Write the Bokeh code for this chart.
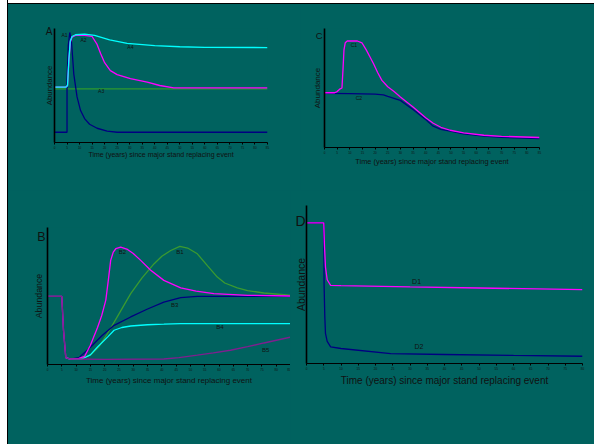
from bokeh.plotting import figure
from bokeh.layouts import column, row
from bokeh.models import Range1d, FixedTicker, ColumnDataSource, Spacer, LinearAxis
from bokeh.core.properties import value
from bokeh.embed import file_html
from bokeh.resources import INLINE

BG = "#00625F"
FONT = "Liberation Sans"
TXT = "#111111"
XLABEL = "Time (years) since major stand replacing event"
YLABEL = "Abundance"

MAGENTA = "#FF00FF"
NAVY = "#000080"
CYAN = "#00FFFF"
GREEN = "#2E9A2E"
GREEN_B = "#3A9A30"
PURPLE = "#7F1F8F"

ticks_85 = [0, 5, 10, 15, 20, 25, 30, 35, 40, 45, 50, 55, 60, 65, 70, 75, 80, 85]
ticks_80 = [0, 5, 10, 15, 20, 25, 30, 35, 40, 45, 50, 55, 60, 65, 70, 75, 80]

# ---------------- Panel A ----------------
a1_x = [0, 5, 5, 5.5, 6.1, 6.8, 7.7, 9, 10.4, 12, 14, 17, 21, 25, 85]
a1_y = [9, 9, 55, 85, 96.5, 88, 60, 40, 28, 21, 16, 12.5, 10, 9, 9]
a2_x = [0, 4.5, 5.2, 5.7, 6.3, 7, 8.4, 12, 15, 17, 18.4, 20, 22.3, 25, 30.3, 37, 42, 47.6, 85]
a2_y = [48.5, 48.5, 50, 70, 88, 92.5, 94, 94, 93, 86, 78, 70, 63, 59.5, 56, 53, 50, 48, 48]
a3_x = [0, 85]
a3_y = [47, 47]
a4_x = [0, 4.5, 5.2, 5.7, 6.3, 7, 8.4, 12, 16, 22, 29, 40, 50, 60, 85]
a4_y = [48.5, 48.5, 50, 72, 89, 93, 94.5, 95, 94, 90, 87, 85, 84, 83.5, 83.3]
a_lab = ["A1", "A2", "A3", "A4"]
a_lab_x = [4, 11.6, 18.6, 30.3]
a_lab_y = [94, 89.5, 45, 84]

# ---------------- Panel C ----------------
c1_x = [0, 4, 5, 6, 6.9, 7.3, 7.7, 8.2, 9, 13, 14.8, 16.5, 18, 19.4, 21, 22.7, 25, 27.5,
        30, 35, 40, 43, 46, 49.7, 55, 63, 70, 85]
c1_y = [46, 46, 47, 49, 50, 65, 82, 88, 89.5, 89.5, 88, 82, 76, 70.4, 63, 56.4, 51, 47,
        42.4, 34, 25, 20.4, 17, 14.5, 12.3, 10.3, 9.4, 8.4]
c2_x = [0, 10, 20, 23.3, 25, 30, 35, 40, 43, 46, 49.7, 55, 63, 70, 85]
c2_y = [45.5, 45.3, 44.8, 44.3, 43, 39.6, 32, 23.5, 17.9, 15.3, 13.7, 11.5, 9.5, 8.5, 7.5]
c_lab = ["C1", "C2"]
c_lab_x = [11.6, 13.6]
c_lab_y = [85.8, 42]

# ---------------- Panel B ----------------
b1_x = [6.4, 8, 12, 15.1, 18, 21, 25, 29.1, 33, 37.3, 40, 43.1, 46.3, 49, 52.4, 56, 59.4,
        62, 66.4, 70, 75.7, 85]
b1_y = [5, 4, 4.5, 7, 13, 22.6, 37, 51.7, 63, 73.6, 79, 83.2, 86.2, 85, 80.8, 72, 63.8,
        59.5, 56, 54, 52.2, 50.5]
b2_x = [0, 5, 5.6, 6.4, 8, 11, 13, 15, 17.5, 19, 20.4, 21.3, 22.1, 23, 23.9, 25.6, 28, 30,
        32.6, 36, 40.7, 46.6, 52, 58.2, 70, 85]
b2_y = [49.7, 49.7, 25, 5, 4, 4.5, 6, 14, 27, 36, 47, 62, 76, 82, 84.5, 85.7, 84, 81,
        76, 69, 61.4, 56, 53.5, 51.7, 50.5, 50]
b3_x = [6.4, 8, 11, 15.1, 19, 23.3, 29.1, 35, 40.7, 46.6, 52.4, 85]
b3_y = [5, 4, 5, 12.8, 21, 28.6, 34.7, 40.5, 45.6, 48.8, 49.7, 49.7]
b4_x = [6.4, 8, 12, 15, 17.5, 21, 23.3, 26, 29.1, 35, 40.7, 46.6, 85]
b4_y = [5, 4, 4, 7, 12.8, 20, 25, 27, 28.1, 29, 29.4, 29.9, 29.9]
b5_x = [0, 5, 5.6, 6.4, 8, 20, 40.7, 46, 52.4, 58, 64, 70, 75.7, 85]
b5_y = [49.7, 49.7, 25, 5, 4, 3.8, 4, 5, 6.8, 8.5, 10.4, 13, 15.7, 20]
b_lab = ["B1", "B2", "B3", "B4", "B5"]
b_lab_x = [46.3, 26.2, 44.5, 60.3, 76.3]
b_lab_y = [82, 82, 43.2, 27.4, 10.4]

# ---------------- Panel D ----------------
d1_x = [0, 5, 5.2, 5.5, 6, 7, 10, 30, 50, 80]
d1_y = [89, 89, 75, 61, 53, 49.5, 49.3, 48.5, 47.8, 46.7]
d2_x = [0, 5, 5.1, 5.3, 5.5, 6, 7, 10, 24.4, 40, 60, 80]
d2_y = [89, 89, 50, 30, 19, 14, 10.5, 9.5, 6.3, 5.7, 5.1, 4.6]
d_lab = ["D1", "D2"]
d_lab_x = [31.9, 32.6]
d_lab_y = [52.2, 10.5]


def panel(width, height, left, right, top, bottom, xmax, ticks,
          xl_size, yl_size, xl_stand, letter, letter_y, letter_size,
          letter_stand, yl_stand):
    p = figure(width=width, height=height, output_backend="svg",
               toolbar_location=None, frame_align=False,
               x_range=Range1d(0, xmax), y_range=Range1d(0, 100),
               min_border_left=left, min_border_right=right,
               min_border_top=top, min_border_bottom=bottom,
               background_fill_color=None, border_fill_color=BG,
               outline_line_color=None)
    p.grid.visible = False
    p.xaxis.ticker = FixedTicker(ticks=ticks)
    p.xaxis.major_label_text_font_size = "3px"
    p.xaxis.major_label_text_color = TXT
    p.xaxis.major_label_standoff = 1
    p.xaxis.major_tick_out = 2
    p.xaxis.major_tick_in = 0
    p.xaxis.minor_tick_out = 0
    p.xaxis.minor_tick_in = 0
    p.xaxis.axis_line_color = "black"
    p.xaxis.major_tick_line_color = "black"
    p.xaxis.axis_line_width = 1.2
    p.xaxis.axis_label = XLABEL
    p.xaxis.axis_label_text_font = FONT
    p.xaxis.axis_label_text_font_style = "normal"
    p.xaxis.axis_label_text_font_size = xl_size
    p.xaxis.axis_label_text_color = TXT
    p.xaxis.axis_label_standoff = xl_stand
    p.xaxis.major_label_text_font = FONT

    # primary y axis: carries the panel letter as its only tick label
    p.yaxis.ticker = FixedTicker(ticks=[letter_y])
    p.yaxis.major_label_overrides = {letter_y: letter}
    p.yaxis.major_label_text_font = FONT
    p.yaxis.major_label_text_font_size = letter_size
    p.yaxis.major_label_text_color = TXT
    p.yaxis.major_label_standoff = letter_stand
    p.yaxis.major_tick_out = 0
    p.yaxis.major_tick_in = 0
    p.yaxis.minor_tick_out = 0
    p.yaxis.minor_tick_in = 0
    p.yaxis.axis_line_color = "black"
    p.yaxis.axis_line_width = 1.6

    # secondary y axis: carries the "Abundance" title
    ax2 = LinearAxis(axis_label=YLABEL, ticker=FixedTicker(ticks=[]),
                     axis_line_color=None, major_tick_out=0, major_tick_in=0,
                     minor_tick_out=0, minor_tick_in=0, major_label_standoff=0,
                     axis_label_text_font=FONT, axis_label_text_font_style="normal",
                     axis_label_text_font_size=yl_size, axis_label_text_color=TXT,
                     axis_label_standoff=yl_stand)
    p.add_layout(ax2, "left")
    return p


def labels(p, names, xs, ys, size):
    src = ColumnDataSource(dict(x=xs, y=ys, t=names))
    p.text(x="x", y="y", text="t", source=src, text_font=value(FONT),
           text_font_size=size, text_color=TXT, text_align="center",
           text_baseline="middle")


LW = 1.3

# Panel A
pA = panel(292, 186, 46, 33, 24, 48, 85, ticks_85, "7px", "7.8px", -1,
           "A", 97, "10px", 2, -11)
pA.line(a3_x, a3_y, line_color=GREEN, line_width=LW)
pA.line(a1_x, a1_y, line_color=NAVY, line_width=LW)
pA.line(a2_x, a2_y, line_color=MAGENTA, line_width=LW)
pA.line(a4_x, a4_y, line_color=CYAN, line_width=LW)
labels(pA, a_lab, a_lab_x, a_lab_y, "5px")

# Panel C
pC = panel(294, 186, 24, 55, 24, 43, 85, ticks_85, "7.4px", "8px", 0,
           "C", 94, "9.5px", 2, -9)
pC.line(c2_x, c2_y, line_color=NAVY, line_width=LW)
pC.line(c1_x, c1_y, line_color=MAGENTA, line_width=LW)
labels(pC, c_lab, c_lab_x, c_lab_y, "5px")

# Panel B
pB = panel(282, 254, 39, 0, 37, 80, 85, ticks_85, "8px", "8.8px", 2,
           "B", 93, "12.5px", 2, -9)
pB.line(b1_x, b1_y, line_color=GREEN_B, line_width=LW)
pB.line(b3_x, b3_y, line_color=NAVY, line_width=LW)
pB.line(b4_x, b4_y, line_color=CYAN, line_width=LW)
pB.line(b2_x, b2_y, line_color=MAGENTA, line_width=LW)
pB.line(b5_x, b5_y, line_color=PURPLE, line_width=LW)
labels(pB, b_lab, b_lab_x, b_lab_y, "6px")

# Panel D
pD = panel(304, 254, 16, 12, 15, 81, 80, ticks_80, "10px", "10.5px", 2,
           "D", 90, "14px", 1, -14)
pD.line(d2_x, d2_y, line_color=NAVY, line_width=LW)
pD.line(d1_x, d1_y, line_color=MAGENTA, line_width=LW)
labels(pD, d_lab, d_lab_x, d_lab_y, "7px")

bg = {"background-color": BG}
top = row(pA, pC, styles=bg)
bottom = row(pB, pD, styles=bg)
panels = column(Spacer(width=586, height=3, styles={"background-color": "white"}),
                Spacer(width=586, height=1, styles={"background-color": "black"}),
                top, bottom)
layout = row(Spacer(width=7, height=444, styles={"background-color": "white"}),
             Spacer(width=1, height=444, styles={"background-color": "black"}),
             panels)
open("out.html", "w").write(file_html(layout, INLINE))
